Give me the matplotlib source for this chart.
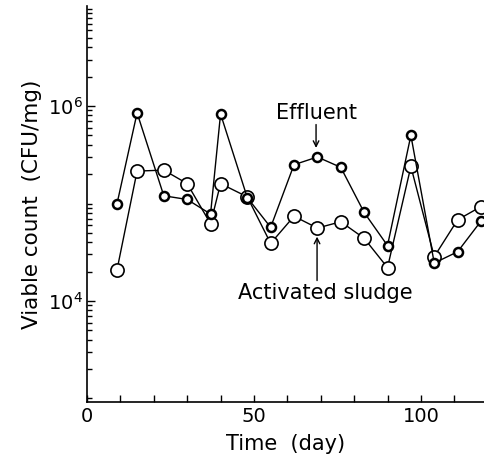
import matplotlib
matplotlib.use("Agg")
import matplotlib.pyplot as plt
from matplotlib.ticker import FixedLocator, NullFormatter

# --- datos ---
dias = [9, 15, 23, 30, 37, 40, 48, 55, 62, 69, 76, 83, 90, 97, 104, 111, 118]
efluente = [1.0e5, 8.5e5, 1.2e5, 1.1e5, 7.8e4, 8.3e5, 1.15e5, 5.7e4, 2.5e5,
            3.0e5, 2.35e5, 8.1e4, 3.7e4, 5.0e5, 2.45e4, 3.2e4, 6.6e4]
lodo = [2.1e4, 2.15e5, 2.2e5, 1.6e5, 6.2e4, 1.6e5, 1.17e5, 3.9e4, 7.4e4,
        5.6e4, 6.5e4, 4.4e4, 2.2e4, 2.4e5, 2.85e4, 6.8e4, 9.3e4]

plt.rcParams["font.family"] = "DejaVu Sans"

fig = plt.figure(figsize=(4.85, 4.69), dpi=100)
ax = fig.add_axes([0.1794, 0.1429, 0.8206, 0.8443])

ax.plot(dias, lodo, "-o", color="black", lw=1.0, ms=9.5,
        mfc="white", mec="black", mew=1.2, zorder=2)
ax.plot(dias, efluente, "-o", color="black", lw=1.0, ms=6.5,
        mfc="white", mec="black", mew=1.8, zorder=3)

ax.set_yscale("log")
ax.set_xlim(0, 119.2)
ax.set_ylim(10**2.964, 10**7.026)

# ejes estilo figura impresa
for s in ["top", "right"]:
    ax.spines[s].set_visible(False)
for s in ["left", "bottom"]:
    ax.spines[s].set_linewidth(1.2)

ax.set_xticks([0, 50, 100])
ax.set_xticks(range(10, 120, 10), minor=True)
ax.yaxis.set_major_locator(FixedLocator([1e4, 1e6]))
menores = [m * 10**k for k in range(3, 8) for m in range(1, 10)
           if not (m == 1 and k in (4, 6))]
ax.yaxis.set_minor_locator(FixedLocator(menores))
ax.yaxis.set_minor_formatter(NullFormatter())
ax.set_yticklabels([r"$\mathregular{10^4}$", r"$\mathregular{10^6}$"])

ax.tick_params(which="both", direction="in", labelsize=14, width=1.0)
ax.tick_params(axis="x", which="both", length=5)
ax.tick_params(axis="y", which="major", length=6, pad=3)
ax.tick_params(axis="y", which="minor", length=3.5)

ax.set_xlabel("Time  (day)", fontsize=15, labelpad=6)
ax.set_ylabel("Viable count  (CFU/mg)", fontsize=15.5, labelpad=4)

# anotaciones
ax.text(68.6, 10**5.93, "Effluent", ha="center", va="center", fontsize=15)
ax.annotate("", xy=(68.6, 10**5.57), xytext=(68.6, 10**5.81),
            arrowprops=dict(arrowstyle="->", color="black", lw=1.0,
                            shrinkA=0, shrinkB=0))
ax.text(71.3, 10**4.08, "Activated sludge", ha="center", va="center",
        fontsize=15)
ax.annotate("", xy=(68.9, 10**4.66), xytext=(68.9, 10**4.21),
            arrowprops=dict(arrowstyle="->", color="black", lw=1.0,
                            shrinkA=0, shrinkB=0))

fig.savefig("out.png", dpi=100)
